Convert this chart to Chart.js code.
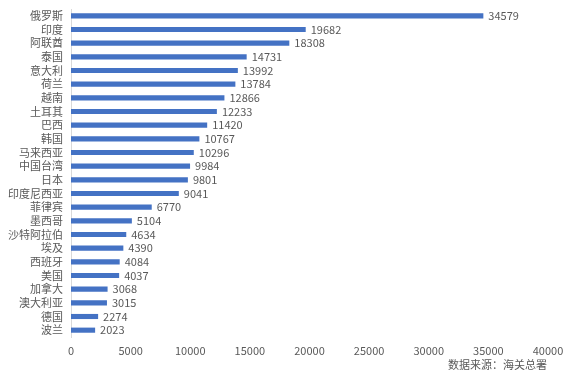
<!DOCTYPE html>
<html>
<head>
<meta charset="utf-8">
<script src="https://cdn.jsdelivr.net/npm/chart.js@4"></script>
<style>
  html, body { margin: 0; padding: 0; background: #fff; }
  #wrap { width: 587px; height: 374px; }
</style>
</head>
<body>
<div id="wrap"><canvas id="chart" width="587" height="374"></canvas></div>
<script>
const countries = ["俄罗斯", "印度", "阿联酋", "泰国", "意大利", "荷兰", "越南", "土耳其", "巴西", "韩国",
  "马来西亚", "中国台湾", "日本", "印度尼西亚", "菲律宾", "墨西哥", "沙特阿拉伯", "埃及", "西班牙", "美国",
  "加拿大", "澳大利亚", "德国", "波兰"];
const values = [34579, 19682, 18308, 14731, 13992, 13784, 12866, 12233, 11420, 10767,
  10296, 9984, 9801, 9041, 6770, 5104, 4634, 4390, 4084, 4037,
  3068, 3015, 2274, 2023];
const xTicks = [0, 5000, 10000, 15000, 20000, 25000, 30000, 35000, 40000];
const sourceNote = "数据来源：海关总署";

const FONT = "'Noto Sans CJK SC', 'Noto Sans', sans-serif";
const TEXT = "#595959";

// value labels at the end of each bar + source note
const labelPlugin = {
  id: "labels",
  afterDatasetsDraw(chart) {
    const ctx = chart.ctx;
    const meta = chart.getDatasetMeta(0);
    ctx.save();
    ctx.font = "11px " + FONT;
    ctx.fillStyle = TEXT;
    ctx.textBaseline = "middle";
    ctx.textAlign = "left";
    meta.data.forEach((bar, i) => {
      ctx.fillText(String(values[i]), bar.x + 5, bar.y);
    });
    ctx.textAlign = "right";
    ctx.fillText(sourceNote, 547, 365);
    ctx.restore();
  }
};

new Chart(document.getElementById("chart"), {
  type: "bar",
  data: {
    labels: countries,
    datasets: [{ data: values, backgroundColor: "#4472c4", barPercentage: 0.75, categoryPercentage: 0.5 }]
  },
  options: {
    indexAxis: "y",
    responsive: false,
    animation: false,
    layout: { padding: { top: 9, right: 39, left: 0, bottom: 0 } },
    plugins: { legend: { display: false }, tooltip: { enabled: false } },
    scales: {
      x: {
        min: 0, max: 40000,
        afterBuildTicks(scale) { scale.ticks = xTicks.map(v => ({ value: v })); },
        afterFit(scale) { scale.height = 37; },
        grid: { display: false, drawTicks: false },
        border: { display: false },
        ticks: { color: TEXT, font: { family: FONT, size: 11 }, padding: 7, maxRotation: 0,
          callback: v => String(v) }
      },
      y: {
        afterFit(scale) { scale.width = 71; scale.paddingTop = 0; scale.paddingBottom = 0; },
        grid: { display: false, drawTicks: false },
        border: { display: true, color: "#d9d9d9", width: 1 },
        ticks: { color: TEXT, font: { family: FONT, size: 11 }, padding: 8, autoSkip: false }
      }
    }
  },
  plugins: [labelPlugin]
});
</script>
</body>
</html>
